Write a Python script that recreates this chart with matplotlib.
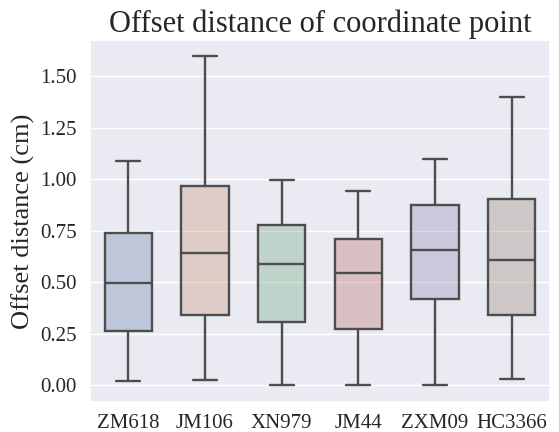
import numpy as np
import seaborn as sns
import matplotlib
matplotlib.use('Agg')
import matplotlib.pyplot as plt

varieties = ['ZM618', 'JM106', 'XN979', 'JM44', 'ZXM09', 'HC3366']
whislo = [0.02, 0.025, 0.0, 0.0, 0.0, 0.03]
q1 = [0.265, 0.34, 0.305, 0.275, 0.42, 0.34]
med = [0.498, 0.64, 0.59, 0.547, 0.658, 0.61]
q3 = [0.738, 0.965, 0.78, 0.711, 0.876, 0.902]
whishi = [1.09, 1.598, 0.995, 0.945, 1.098, 1.4]

sns.set_theme(style='darkgrid')
plt.rcParams['font.family'] = ['Liberation Serif', 'DejaVu Serif']

colors = [sns.desaturate(c, 0.75) for c in sns.color_palette('deep', len(varieties))]
stats = []
for i, name in enumerate(varieties):
    stats.append({'label': name, 'whislo': whislo[i], 'q1': q1[i], 'med': med[i],
                  'q3': q3[i], 'whishi': whishi[i], 'fliers': []})

fig, ax = plt.subplots(figsize=(5.59, 4.32), dpi=100)
line_kw = dict(color='#4d4d4d', linewidth=1.7)
bp = ax.bxp(stats, positions=np.arange(len(varieties)), widths=0.62, patch_artist=True,
            showfliers=False, boxprops=dict(edgecolor='#4d4d4d', linewidth=1.7),
            medianprops=line_kw, whiskerprops=line_kw, capprops=line_kw)
for patch, c in zip(bp['boxes'], colors):
    r, g, b = c
    patch.set_facecolor((r, g, b, 0.3))

ax.grid(False, axis='x')
ax.set_xlim(-0.5, len(varieties) - 0.5)
ax.set_ylim(-0.08, 1.675)
ax.set_yticks([0.0, 0.25, 0.5, 0.75, 1.0, 1.25, 1.5])
ax.set_yticklabels(['0.00', '0.25', '0.50', '0.75', '1.00', '1.25', '1.50'])
ax.tick_params(axis='y', labelsize=15)
ax.tick_params(axis='x', labelsize=15, pad=3)
ax.set_ylabel('Offset distance (cm)', fontsize=19)
ax.set_title('Offset distance of coordinate point', fontsize=22)
plt.subplots_adjust(left=0.161, right=0.984, top=0.907, bottom=0.07)
plt.savefig('out.png', dpi=100)
